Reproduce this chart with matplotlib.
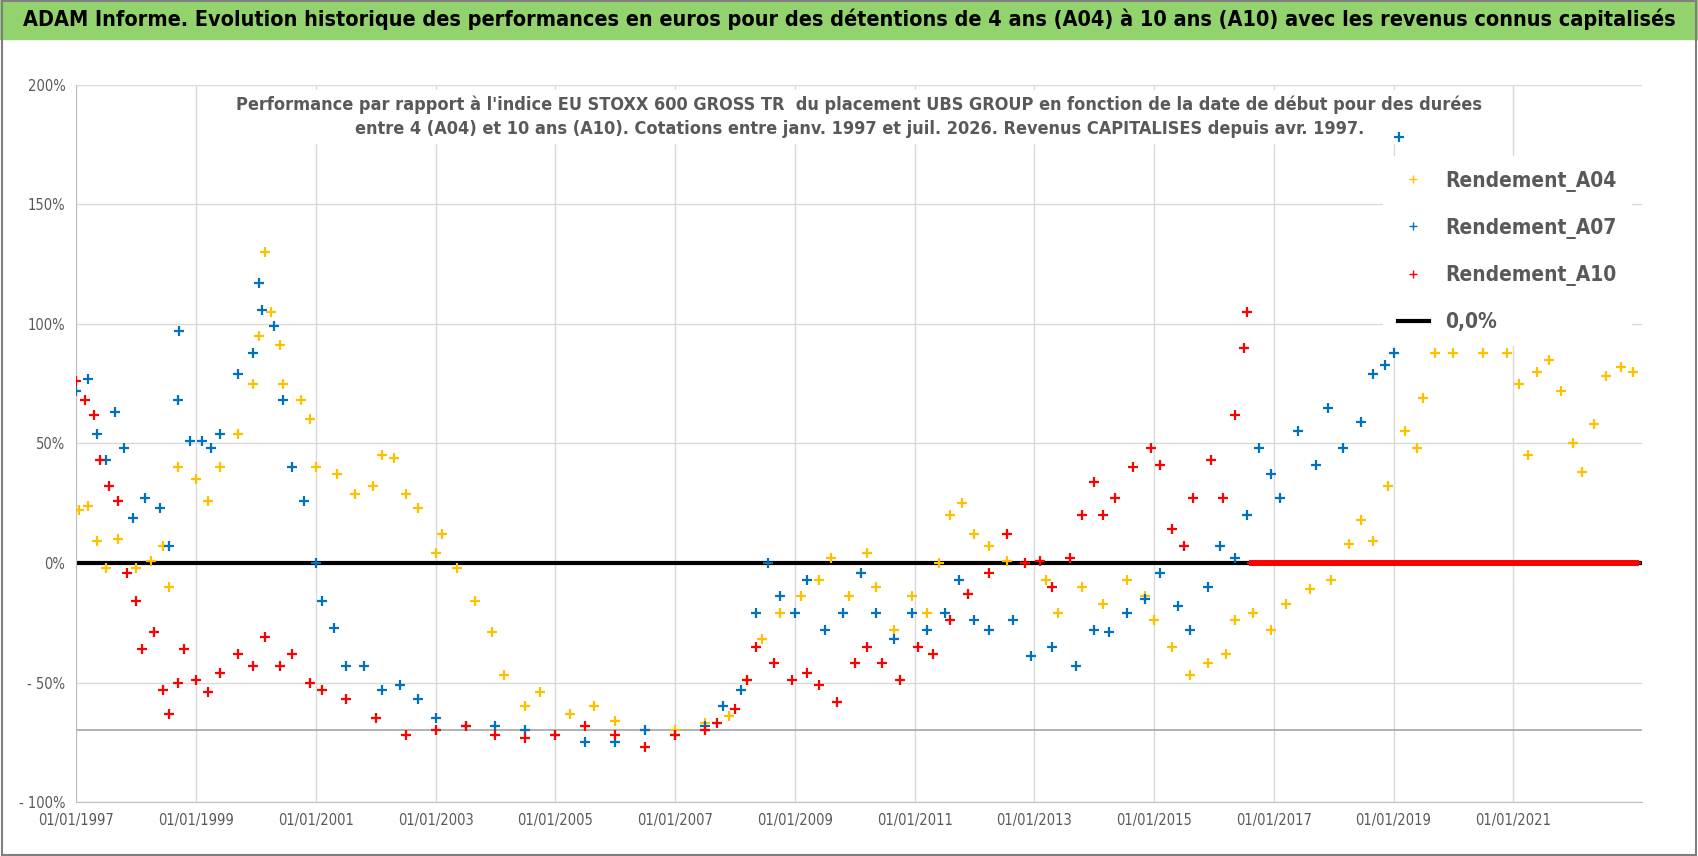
import numpy as np
import matplotlib
matplotlib.use("Agg")
import matplotlib.pyplot as plt
from matplotlib.lines import Line2D

plt.rcParams["font.family"] = ["DejaVu Sans"]
plt.rcParams["font.stretch"] = "condensed"

# dates as decimal years, values in %
a04_t = [1997.05, 1997.2, 1997.35, 1997.5, 1997.7, 1998.0, 1998.25, 1998.45, 1998.55, 1998.7,
         1999.0, 1999.2, 1999.4, 1999.7, 1999.95, 2000.05, 2000.15, 2000.25, 2000.4, 2000.45,
         2000.75, 2000.9, 2001.0, 2001.35, 2001.65, 2001.95, 2002.1, 2002.3, 2002.5, 2002.7,
         2003.0, 2003.1, 2003.35, 2003.65, 2003.95, 2004.15, 2004.5, 2004.75, 2005.25, 2005.65,
         2006.0, 2006.5, 2007.0, 2007.5, 2007.9, 2008.2, 2008.45, 2008.75, 2009.1, 2009.4,
         2009.6, 2009.9, 2010.2, 2010.35, 2010.65, 2010.95, 2011.2, 2011.4, 2011.6, 2011.8,
         2012.0, 2012.25, 2012.55, 2012.85, 2013.2, 2013.4, 2013.8, 2014.15, 2014.55, 2014.85,
         2015.0, 2015.3, 2015.6, 2015.9, 2016.2, 2016.35, 2016.65, 2016.95, 2017.2, 2017.6,
         2017.95, 2018.25, 2018.45, 2018.65, 2018.9, 2019.2, 2019.4, 2019.5, 2019.7, 2020.0,
         2020.5, 2020.9, 2021.1, 2021.25, 2021.4, 2021.6, 2021.8, 2022.0, 2022.15, 2022.35,
         2022.55, 2022.8, 2023.0]
a04_v = [22, 24, 9, -2, 10, -2, 1, 7, -10, 40,
         35, 26, 40, 54, 75, 95, 130, 105, 91, 75,
         68, 60, 40, 37, 29, 32, 45, 44, 29, 23,
         4, 12, -2, -16, -29, -47, -60, -54, -63, -60,
         -66, -70, -70, -67, -64, -49, -32, -21, -14, -7,
         2, -14, 4, -10, -28, -14, -21, 0, 20, 25,
         12, 7, 1, 0, -7, -21, -10, -17, -7, -14,
         -24, -35, -47, -42, -38, -24, -21, -28, -17, -11,
         -7, 8, 18, 9, 32, 55, 48, 69, 88, 88,
         88, 88, 75, 45, 80, 85, 72, 50, 38, 58,
         78, 82, 80]

a07_t = [1997.0, 1997.2, 1997.35, 1997.5, 1997.65, 1997.8, 1997.95, 1998.15, 1998.4, 1998.55,
         1998.7, 1998.72, 1998.9, 1999.1, 1999.25, 1999.4, 1999.7, 1999.95, 2000.05, 2000.1,
         2000.3, 2000.45, 2000.6, 2000.8, 2001.0, 2001.1, 2001.3, 2001.5, 2001.8, 2002.1,
         2002.4, 2002.7, 2003.0, 2003.5, 2004.0, 2004.5, 2005.0, 2005.5, 2006.0, 2006.5,
         2007.0, 2007.5, 2007.8, 2008.1, 2008.35, 2008.55, 2008.75, 2009.0, 2009.2, 2009.5,
         2009.8, 2010.1, 2010.35, 2010.65, 2010.95, 2011.2, 2011.5, 2011.75, 2012.0, 2012.25,
         2012.65, 2012.95, 2013.3, 2013.7, 2014.0, 2014.25, 2014.55, 2014.85, 2015.1, 2015.4,
         2015.6, 2015.9, 2016.1, 2016.35, 2016.55, 2016.75, 2016.95, 2017.1, 2017.4, 2017.7,
         2017.9, 2018.15, 2018.45, 2018.65, 2018.85, 2019.0, 2019.1, 2019.3, 2019.5]
a07_v = [72, 77, 54, 43, 63, 48, 19, 27, 23, 7,
         68, 97, 51, 51, 48, 54, 79, 88, 117, 106,
         99, 68, 40, 26, 0, -16, -27, -43, -43, -53,
         -51, -57, -65, -68, -68, -70, -72, -75, -75, -70,
         -72, -68, -60, -53, -21, 0, -14, -21, -7, -28,
         -21, -4, -21, -32, -21, -28, -21, -7, -24, -28,
         -24, -39, -35, -43, -28, -29, -21, -15, -4, -18,
         -28, -10, 7, 2, 20, 48, 37, 27, 55, 41,
         65, 48, 59, 79, 83, 88, 178, 130, 110]

a10_t = [1997.0, 1997.15, 1997.3, 1997.4, 1997.55, 1997.7, 1997.85, 1998.0, 1998.1, 1998.3,
         1998.45, 1998.55, 1998.7, 1998.8, 1999.0, 1999.2, 1999.4, 1999.7, 1999.95, 2000.15,
         2000.4, 2000.6, 2000.9, 2001.1, 2001.5, 2002.0, 2002.5, 2003.0, 2003.5, 2004.0,
         2004.5, 2005.0, 2005.5, 2006.0, 2006.5, 2007.0, 2007.5, 2007.7, 2008.0, 2008.2,
         2008.35, 2008.65, 2008.95, 2009.2, 2009.4, 2009.7, 2010.0, 2010.2, 2010.45, 2010.75,
         2011.05, 2011.3, 2011.6, 2011.9, 2012.25, 2012.55, 2012.85, 2013.1, 2013.3, 2013.6,
         2013.8, 2014.0, 2014.15, 2014.35, 2014.65, 2014.95, 2015.1, 2015.3, 2015.5, 2015.65,
         2015.95, 2016.15, 2016.35, 2016.5, 2016.55]
a10_v = [76, 68, 62, 43, 32, 26, -4, -16, -36, -29,
         -53, -63, -50, -36, -49, -54, -46, -38, -43, -31,
         -43, -38, -50, -53, -57, -65, -72, -70, -68, -72,
         -73, -72, -68, -72, -77, -72, -70, -67, -61, -49,
         -35, -42, -49, -46, -51, -58, -42, -35, -42, -49,
         -35, -38, -24, -13, -4, 12, 0, 1, -10, 2,
         20, 34, 20, 27, 40, 48, 41, 14, 7, 27,
         43, 27, 62, 90, 105]
# A10 has no full 10-year window after mid-2016: plotted at 0
a10_zero_start, a10_zero_end = 2016.6, 2023.1

x_ticks = list(range(1997, 2022, 2))
x_labels = [f"01/01/{y}" for y in x_ticks]
y_ticks = [-100, -50, 0, 50, 100, 150, 200]
y_labels = ["- 100%", "- 50%", "0%", "50%", "100%", "150%", "200%"]

YEL, BLU, RED = "#FFC000", "#0070C0", "#FF0000"
GREY = "#595959"

fig = plt.figure(figsize=(16.98, 8.56), dpi=100)
fig.patches.append(plt.Rectangle((0, 0.955), 1, 0.045, transform=fig.transFigure,
                                 color="#92D36E", zorder=0))
fig.text(0.5, 0.977, "ADAM Informe. Evolution historique des performances en euros pour des "
         "détentions de 4 ans (A04) à 10 ans (A10) avec les revenus connus capitalisés",
         ha="center", va="center", fontsize=15.5, fontweight="bold", color="black")

ax = fig.add_axes([0.045, 0.063, 0.922, 0.838])
ax.set_xlim(1997, 2023.15)
ax.set_ylim(-100, 200)
ax.set_xticks(x_ticks, x_labels)
ax.set_yticks(y_ticks, y_labels)
ax.tick_params(length=0, labelsize=10.5, colors=GREY, pad=8)
ax.grid(True, color="#d9d9d9", lw=1)
ax.set_axisbelow(True)
for s in ["top", "right"]:
    ax.spines[s].set_visible(False)
for s in ["left", "bottom"]:
    ax.spines[s].set_color("#bfbfbf")
ax.axhline(-70, color="#a6a6a6", lw=1.2, zorder=1)

mk = dict(ls="none", marker="+", ms=7, mew=1.6)
ax.plot(a04_t, a04_v, color=YEL, zorder=3, **mk)
ax.plot(a07_t, a07_v, color=BLU, zorder=3, **mk)
ax.axhline(0, color="black", lw=3, zorder=2)
ax.plot(a10_t, a10_v, color=RED, zorder=4, **mk)
zt = np.arange(a10_zero_start, a10_zero_end, 0.03)
ax.plot(zt, np.zeros_like(zt), color=RED, zorder=4, ls="none", marker="+", ms=5, mew=1.4)

ax.text(0.5, 0.985, "Performance par rapport à l'indice EU STOXX 600 GROSS TR  du placement UBS GROUP en fonction de la date de début pour des durées\n"
        "entre 4 (A04) et 10 ans (A10). Cotations entre janv. 1997 et juil. 2026. Revenus CAPITALISES depuis avr. 1997.",
        transform=ax.transAxes, ha="center", va="top", fontsize=13, fontweight="bold",
        color=GREY, linespacing=1.4, backgroundcolor="white", zorder=2.5)

handles = [Line2D([], [], color=YEL, marker="+", ls="none", ms=6),
           Line2D([], [], color=BLU, marker="+", ls="none", ms=6),
           Line2D([], [], color=RED, marker="+", ls="none", ms=6),
           Line2D([], [], color="black", lw=3)]
leg = ax.legend(handles, ["Rendement_A04", "Rendement_A07", "Rendement_A10", "0,0%"],
                loc="upper right", bbox_to_anchor=(1.0, 0.915), frameon=True,
                facecolor="white", edgecolor="none", framealpha=1, fontsize=15,
                labelspacing=1.25, handlelength=1.5, borderpad=0.7)
for t in leg.get_texts():
    t.set_color(GREY)
    t.set_fontweight("bold")
leg.set_zorder(10)

fig.patches.append(plt.Rectangle((0.001, 0.001), 0.998, 0.998, transform=fig.transFigure,
                                 fill=False, edgecolor="#7f7f7f", lw=1.5))
fig.savefig("out.png", dpi=100)
